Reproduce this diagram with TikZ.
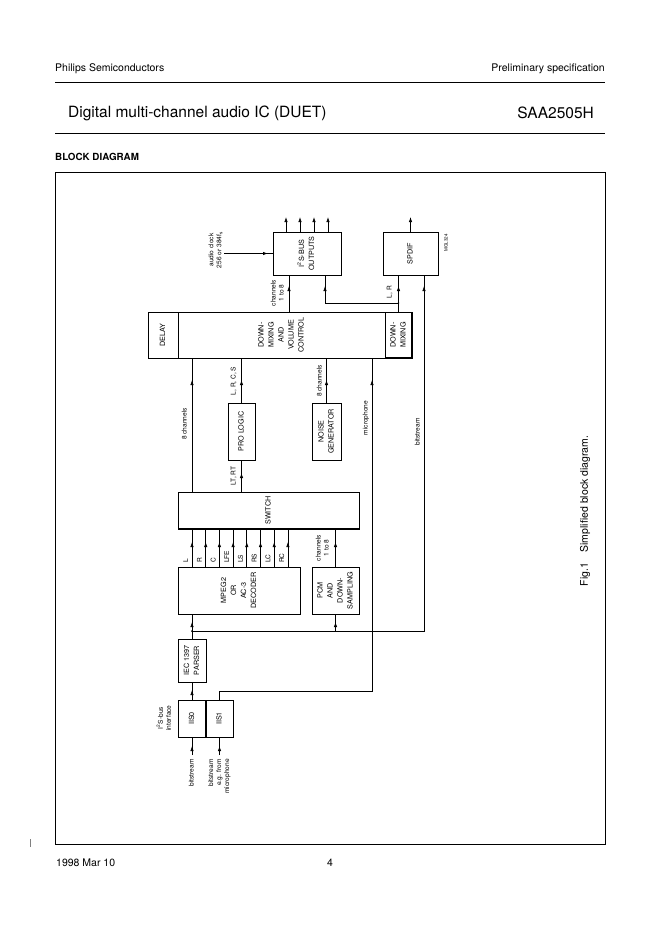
\documentclass[tikz,border=0pt]{standalone}
\usepackage{fontspec}
\setmainfont{TeX Gyre Heros}
\usepackage{graphicx}
\usetikzlibrary{arrows.meta,positioning,decorations.markings}

\newcommand{\boxfont}{\fontsize{7.2}{10}\selectfont}
\newcommand{\tagfont}{\fontsize{6.6}{8}\selectfont}
\newcommand{\vtxt}[2][c]{\rotatebox{90}{\begin{tabular}{@{}#1@{}}#2\end{tabular}}}

\tikzset{
  blk/.style={draw, line width=0.9pt, inner sep=0pt, outer sep=0pt, font=\boxfont},
  sz/.style 2 args={minimum width=#1pt, minimum height=#2pt},
  tag/.style={inner sep=0pt, font=\tagfont},
  wire/.style={line width=0.7pt},
  outarrow/.style={-{Latex[length=5pt,width=3.4pt]}},
  arrowpos/.style={postaction={decorate},
    decoration={markings, mark=at position #1 with {\arrow{Latex[length=5pt,width=3.4pt]}}}},
  pagetext/.style={inner sep=0pt, font=\fontsize{10.5}{12}\selectfont},
}

\begin{document}
\begin{tikzpicture}[x=1pt, y=-1pt]
\useasboundingbox (0,0) rectangle (662,936);
% page head and foot
\node (firm) [pagetext, anchor=west] at (55,69) {Philips Semiconductors};
\node (spec) [pagetext, anchor=east] at (605,69) {Preliminary specification};
\draw [line width=0.7pt] (55,82) -- (605,82);
\node (title) [inner sep=0pt, anchor=west, font=\fontsize{15.5}{18}\selectfont] at (68,113) {Digital multi-channel audio IC (DUET)};
\node (type) [inner sep=0pt, anchor=east, font=\fontsize{15.5}{18}\selectfont] at (594,113) {SAA2505H};
\draw [line width=0.7pt] (55,133) -- (605,133);
\node (head) [inner sep=0pt, anchor=west, font=\bfseries\fontsize{9.8}{12}\selectfont] at (55,157) {BLOCK DIAGRAM};
\draw [line width=0.8pt] (55,172) rectangle (605,844);
\draw [line width=0.4pt, gray] (30,839) -- (30,847);
\node (date) [pagetext, anchor=west] at (56,863) {1998 Mar 10};
\node (page) [pagetext] at (330,863) {4};

% blocks
\node (i2s) [blk, sz={68}{43}] at (307,253.5) {\vtxt{I\textsuperscript{2}S-BUS\\OUTPUTS}};
\node (spdif) [blk, sz={55}{43}] at (410.5,253.5) {\vtxt{SPDIF}};
\node (code) [inner sep=0pt, font=\fontsize{4.5}{5}\selectfont] at (446,243) {\rotatebox{90}{MGL324}};
\node (mix) [blk, sz={207}{46}] at (281.5,335) {\vtxt{DOWN-\\MIXING\\AND\\VOLUME\\CONTROL}};
\node (delay) [blk, sz={30}{46}, left=0pt of mix] {\vtxt{DELAY}};
\node (dmix) [blk, sz={27}{46}, right=0pt of mix] {\vtxt{DOWN-\\MIXING}};
\node (prolog) [blk, sz={27}{57}] at (241.5,431.5) {\vtxt{PRO LOGIC}};
\node (noise) [blk, sz={29}{57}] at (326.5,431.5) {\vtxt{NOISE\\GENERATOR}};
\node (switch) [blk, sz={181}{37}] at (268.5,510.5) {\vtxt{SWITCH}};
\node (mpeg) [blk, sz={122}{47}] at (239,590.5) {\vtxt{MPEG2\\OR\\AC-3\\DECODER}};
\node (pcm) [blk, sz={47}{47}] at (335.5,590.5) {\vtxt{PCM\\AND\\DOWN-\\SAMPLING}};
\node (iec) [blk, sz={28}{43}] at (192,660.5) {\vtxt{IEC 1397\\PARSER}};
\node (iis0) [blk, sz={28}{37}] at (192,718.5) {\vtxt{IIS0}};
\node (iis1) [blk, sz={27}{37}, right=0pt of iis0] {\vtxt{IIS1}};
\draw [line width=1.5pt] (dmix.south west) -- (dmix.south east) -- (dmix.north east);
\draw [line width=1.5pt] (switch.south west) -- (switch.south east);
\draw [line width=1.6pt] (iis0.north east) -- (iis0.south east);

% labels
\node (clk) [tag, anchor=east] at (224,250) {\vtxt{audio clock\\256 or 384f\textsubscript{s}}};
\node (ch18a) [tag] at (278,293) {\vtxt{channels\\1 to 8}};
\node (lr) [tag] at (390,292) {\vtxt{L, R}};
\node (bs) [tag] at (418,432) {\vtxt{bitstream}};
\node (ch8a) [tag] at (185,424) {\vtxt{8 channels}};
\node (lrcs) [tag] at (234,381) {\vtxt{L, R, C, S}};
\node (ltrt) [tag] at (234,476) {\vtxt{LT, RT}};
\node (ch8b) [tag] at (320,381) {\vtxt{8 channels}};
\node (mic) [tag] at (366,418) {\vtxt{microphone}};
\node (ch18b) [tag] at (323,548) {\vtxt{channels\\1 to 8}};
\node (ifc) [tag] at (165,718) {\vtxt{I\textsuperscript{2}S-bus\\interface}};
\node (bs0) [tag, anchor=north] at (192,759) {\vtxt{bitstream}};
\node (bs1) [tag, anchor=north] at (219.5,759) {\vtxt[r]{bitstream\\e.g. from\\microphone}};
\node (fig) [pagetext] at (585,511) {\rotatebox{90}{Fig.1\quad Simplified block diagram.}};

% outputs
\foreach \xo in {286,300,314,328} {
  \coordinate (out\xo) at (\xo,217);
  \draw [wire, outarrow] (i2s.north -| out\xo) -- (out\xo);
}
\coordinate (spout) at (410.5,217);
\draw [wire, outarrow] (spdif.north) -- (spout);
\draw [wire, arrowpos=-5pt] (clk.east |- i2s.west) -- (i2s.west);

% top connections
\draw [wire, arrowpos=-11pt] (mix.north -| 289,0) -- (i2s.south -| 289,0);
\draw [wire, arrowpos=-11pt] (dmix.north) -- (dmix.north |- spdif.south);
\coordinate (lrtap) at (dmix.north |- 0,303);
\fill (lrtap) circle (0.9pt);
\draw [wire, arrowpos=-11pt] (lrtap) -| (i2s.south -| 325,0);
\coordinate (split) at (192,631);
\draw [wire, arrowpos=-11pt] (split) -| (spdif.south -| 424,0);

% into mixing
\draw [wire, arrowpos=-22pt] (switch.north -| 192,0) -- (mix.south -| 192,0);
\draw [wire, arrowpos=-22pt] (prolog.north) -- (prolog.north |- mix.south);
\draw [wire, arrowpos=-13pt] (switch.north -| prolog.north) -- (prolog.south);
\draw [wire, arrowpos=-22pt] (noise.north) -- (noise.north |- mix.south);
\coordinate (micbend) at (372,691);
\draw [wire, arrowpos=-22pt] (iis1.north) |- (micbend) -- (mix.south -| micbend);

% decoder outputs
\foreach \lab [count=\i] in {L,R,C,LFE,LS,RS,LC,RC} {
  \pgfmathsetmacro{\xc}{178.3+13.7*\i}
  \draw [wire, arrowpos=-13pt] (mpeg.north -| \xc,0) -- (switch.south -| \xc,0);
  \node (dec\i) [tag, anchor=south] at (\xc-5.5,563) {\vtxt{\lab}};
}
\draw [wire, arrowpos=-13pt] (pcm.north) -- (pcm.north |- switch.south);

% input side
\draw [wire, arrowpos=-8pt] (iec.north) -- (mpeg.south -| iec.north);
\fill (split) circle (1pt);
\draw [wire, arrowpos=-8pt] (pcm.south |- split) -- (pcm.south);
\draw [wire, arrowpos=-8pt] (iis0.north) -- (iec.south);
\coordinate (in0) at ([yshift=4pt]bs0.north);
\draw [wire, arrowpos=-9pt] (in0) -- (iis0.south);
\draw [wire, arrowpos=-9pt] (iis1.south |- in0) -- (iis1.south);
\end{tikzpicture}
\end{document}
